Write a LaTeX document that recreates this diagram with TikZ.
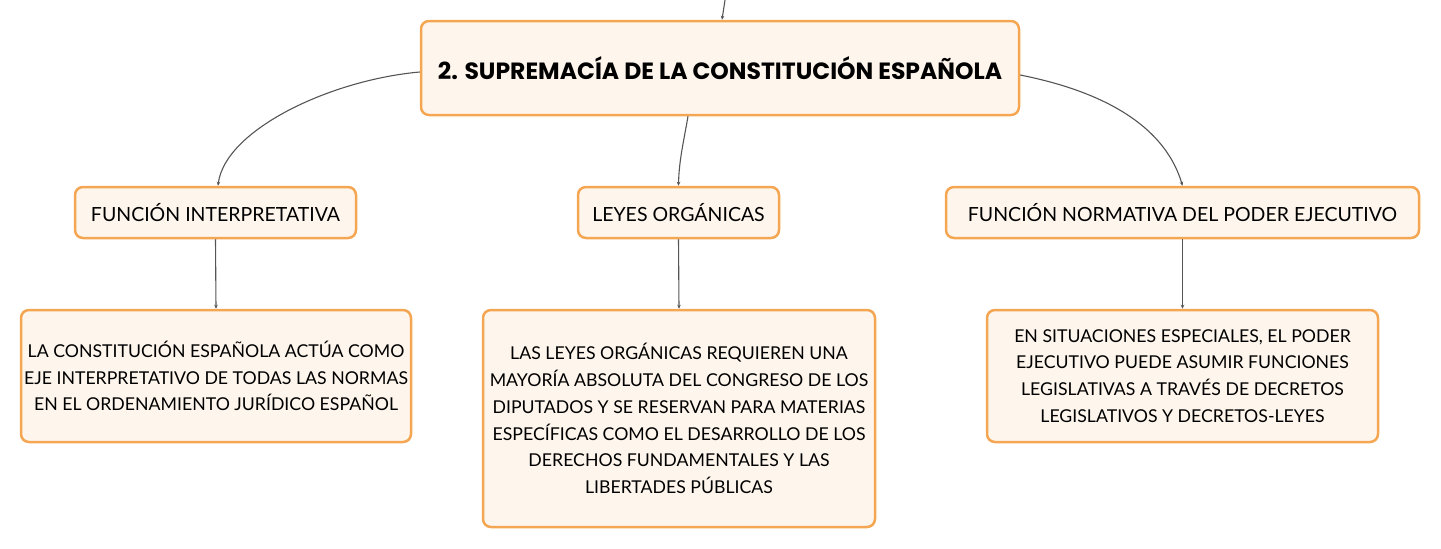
\documentclass[tikz,border=0pt]{standalone}
\usepackage{fontspec}
\setmainfont{Lato}
\newfontfamily\titlefont{Poppins}
\usetikzlibrary{arrows.meta,calc}
\definecolor{bord}{HTML}{F4A652}
\definecolor{fillc}{HTML}{FEF5EC}
\definecolor{conn}{HTML}{555555}
\tikzset{
  box/.style={draw=bord, fill=fillc, line width=2.5pt, rounded corners=8pt, inner sep=0pt, align=center, font=\fontsize{17.7}{26.8}\selectfont},
  labelbox/.style={box, font=\fontsize{19.5}{24}\selectfont},
  titlebox/.style={box, font=\titlefont\bfseries\fontsize{23.5}{28}\selectfont},
  link/.style={draw=conn, line width=1.1pt, -{Stealth[length=4pt,width=3.5pt]}}
}
\begin{document}
\begin{tikzpicture}[x=1pt,y=-1pt]
\useasboundingbox (0,0) rectangle (1441,549);
\node[titlebox, minimum width=598pt, minimum height=94pt] (top) at (720,68) {2. SUPREMACÍA DE LA CONSTITUCIÓN ESPAÑOLA};
\node[labelbox, minimum width=281pt, minimum height=51pt] (fi) at (215.5,212.5) {FUNCIÓN INTERPRETATIVA};
\node[labelbox, minimum width=201pt, minimum height=51pt] (lo) at (678.5,212.5) {LEYES ORGÁNICAS};
\node[labelbox, minimum width=473pt, minimum height=51pt] (fn) at (1182.5,212.5) {FUNCIÓN NORMATIVA DEL PODER EJECUTIVO};
\node[box, minimum width=390pt, minimum height=132pt] (b1) at (216,376) {LA CONSTITUCIÓN ESPAÑOLA ACTÚA COMO\\EJE INTERPRETATIVO DE TODAS LAS NORMAS\\EN EL ORDENAMIENTO JURÍDICO ESPAÑOL};
\node[box, minimum width=392pt, minimum height=217pt] (b2) at (679,418.5) {LAS LEYES ORGÁNICAS REQUIEREN UNA\\MAYORÍA ABSOLUTA DEL CONGRESO DE LOS\\DIPUTADOS Y SE RESERVAN PARA MATERIAS\\ESPECÍFICAS COMO EL DESARROLLO DE LOS\\DERECHOS FUNDAMENTALES Y LAS\\LIBERTADES PÚBLICAS};
\node[box, minimum width=391pt, minimum height=132pt] (b3) at (1182.5,376) {EN SITUACIONES ESPECIALES, EL PODER\\EJECUTIVO PUEDE ASUMIR FUNCIONES\\LEGISLATIVAS A TRAVÉS DE DECRETOS\\LEGISLATIVOS Y DECRETOS-LEYES};
\coordinate (topin) at (725,0);
\draw[link] (topin) -- ($(top.north)+(2,0)$);
\draw[link] ($(top.west)+(0,4)$) .. controls (330,80) and (225,130) .. ($(fi.north)+(2.5,0)$);
\draw[link] ($(top.south)+(-32,0)$) .. controls (684,140) and (679,160) .. (lo.north);
\draw[link] ($(top.east)+(0,7)$) .. controls (1070,85) and (1160,110) .. (fn.north);
\draw[link] (fi.south) -- (b1.north);
\draw[link] (lo.south) -- (b2.north);
\draw[link] (fn.south) -- (b3.north);
\end{tikzpicture}
\end{document}
